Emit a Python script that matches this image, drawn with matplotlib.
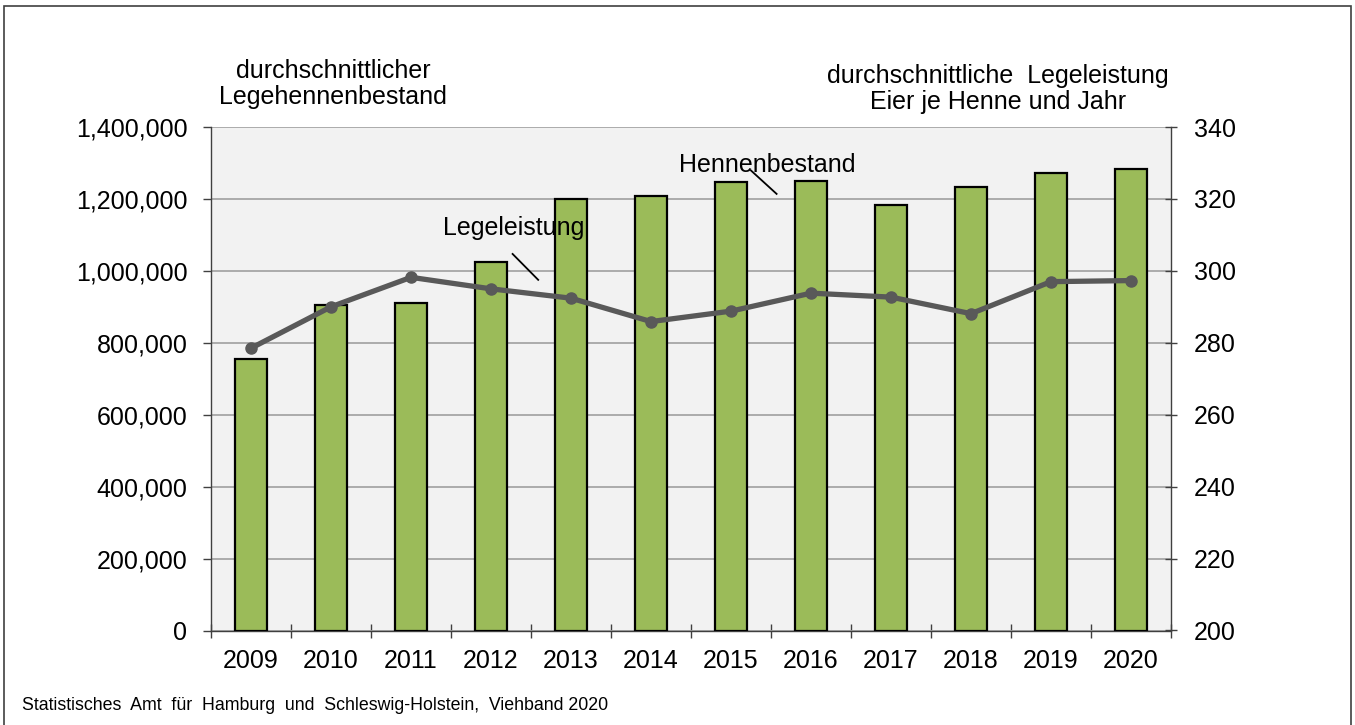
import matplotlib
matplotlib.use('Agg')
from matplotlib import pyplot as plt
from matplotlib.patches import Rectangle
from matplotlib.ticker import FuncFormatter, FixedLocator
import numpy as np

plt.rcParams['font.family'] = ['Liberation Sans', 'DejaVu Sans']

# data
years = ['2009', '2010', '2011', '2012', '2013', '2014',
         '2015', '2016', '2017', '2018', '2019', '2020']
hennen = [755000, 904000, 910000, 1026000, 1199000, 1207000,
          1246000, 1251000, 1183000, 1234000, 1271000, 1283000]
legeleistung = [278.5, 290.0, 298.2, 295.0, 292.4, 285.9,
                288.8, 293.8, 292.7, 288.1, 297.0, 297.3]

left_title = 'durchschnittlicher\nLegehennenbestand'
right_title = 'durchschnittliche  Legeleistung\nEier je Henne und Jahr'
source = 'Statistisches  Amt  für  Hamburg  und  Schleswig-Holstein,  Viehband 2020'

W, H = 1355, 725
fig = plt.figure(figsize=(W / 100, H / 100), dpi=100)
ax = fig.add_axes([211 / W, 1 - 630.5 / H, (1171 - 211) / W, (630.5 - 127) / H])
ax.set_facecolor('#f2f2f2')

x = np.arange(len(years))
ax.bar(x, hennen, width=0.4, color='#9bbb59', edgecolor='black', linewidth=1.6, zorder=3)
ax.set_xlim(-0.5, len(years) - 0.5)
ax.set_ylim(0, 1400000)
ax.set_yticks(np.arange(0, 1400001, 200000))
ax.yaxis.set_major_formatter(FuncFormatter(lambda v, p: '{:,.0f}'.format(v)))
ax.grid(axis='y', color='#a6a6a6', linewidth=1.3, zorder=0)
ax.set_axisbelow(True)

ax.set_xticks(x)
ax.set_xticklabels(years)
ax.xaxis.set_minor_locator(FixedLocator(np.arange(-0.5, len(years), 1)))
ax.tick_params(axis='x', which='major', length=0, pad=13, labelsize=18)
ax.tick_params(axis='x', which='minor', direction='inout', length=10, width=1, color='#404040')
ax.tick_params(axis='y', direction='out', length=6, width=1, color='#404040', pad=11, labelsize=18)

for s in ['top', 'right']:
    ax.spines[s].set_visible(False)
for s in ['left', 'bottom']:
    ax.spines[s].set_color('#404040')
    ax.spines[s].set_linewidth(1)

ax2 = ax.twinx()
ax2.plot(x, legeleistung, color='#595959', linewidth=3.8, marker='o', markersize=8, zorder=5)
ax2.set_ylim(200, 340)
ax2.set_yticks(np.arange(200, 341, 20))
ax2.tick_params(axis='y', direction='inout', length=9, width=1, color='#404040', pad=12, labelsize=18)
for s in ['top', 'left', 'bottom']:
    ax2.spines[s].set_visible(False)
ax2.spines['right'].set_color('#404040')
ax2.spines['right'].set_linewidth(1)

# series labels with small leader lines
ax.text(3.28, 1120000, 'Legeleistung', fontsize=18, ha='center', va='center', zorder=6)
ax.plot([3.27, 3.59], [1047000, 975000], color='black', lw=1.3, zorder=6)
ax.text(6.45, 1293000, 'Hennenbestand', fontsize=18, ha='center', va='center', zorder=6)
ax.plot([6.25, 6.57], [1279000, 1214000], color='black', lw=1.3, zorder=6)

fig.text(333 / W, 1 - 84 / H, left_title, ha='center', va='center', fontsize=18, linespacing=1.12)
fig.text(998 / W, 1 - 89 / H, right_title, ha='center', va='center', fontsize=18, linespacing=1.12)
fig.text(22 / W, 1 - 705 / H, source, ha='left', va='center', fontsize=12.8)

# outer frame
fig.patches.append(Rectangle((4 / W, -0.05), (1351 - 4) / W, 1.05 - 6 / H,
                             transform=fig.transFigure, fill=False,
                             edgecolor='#404040', linewidth=1.2))

fig.savefig('out.png', dpi=100)
